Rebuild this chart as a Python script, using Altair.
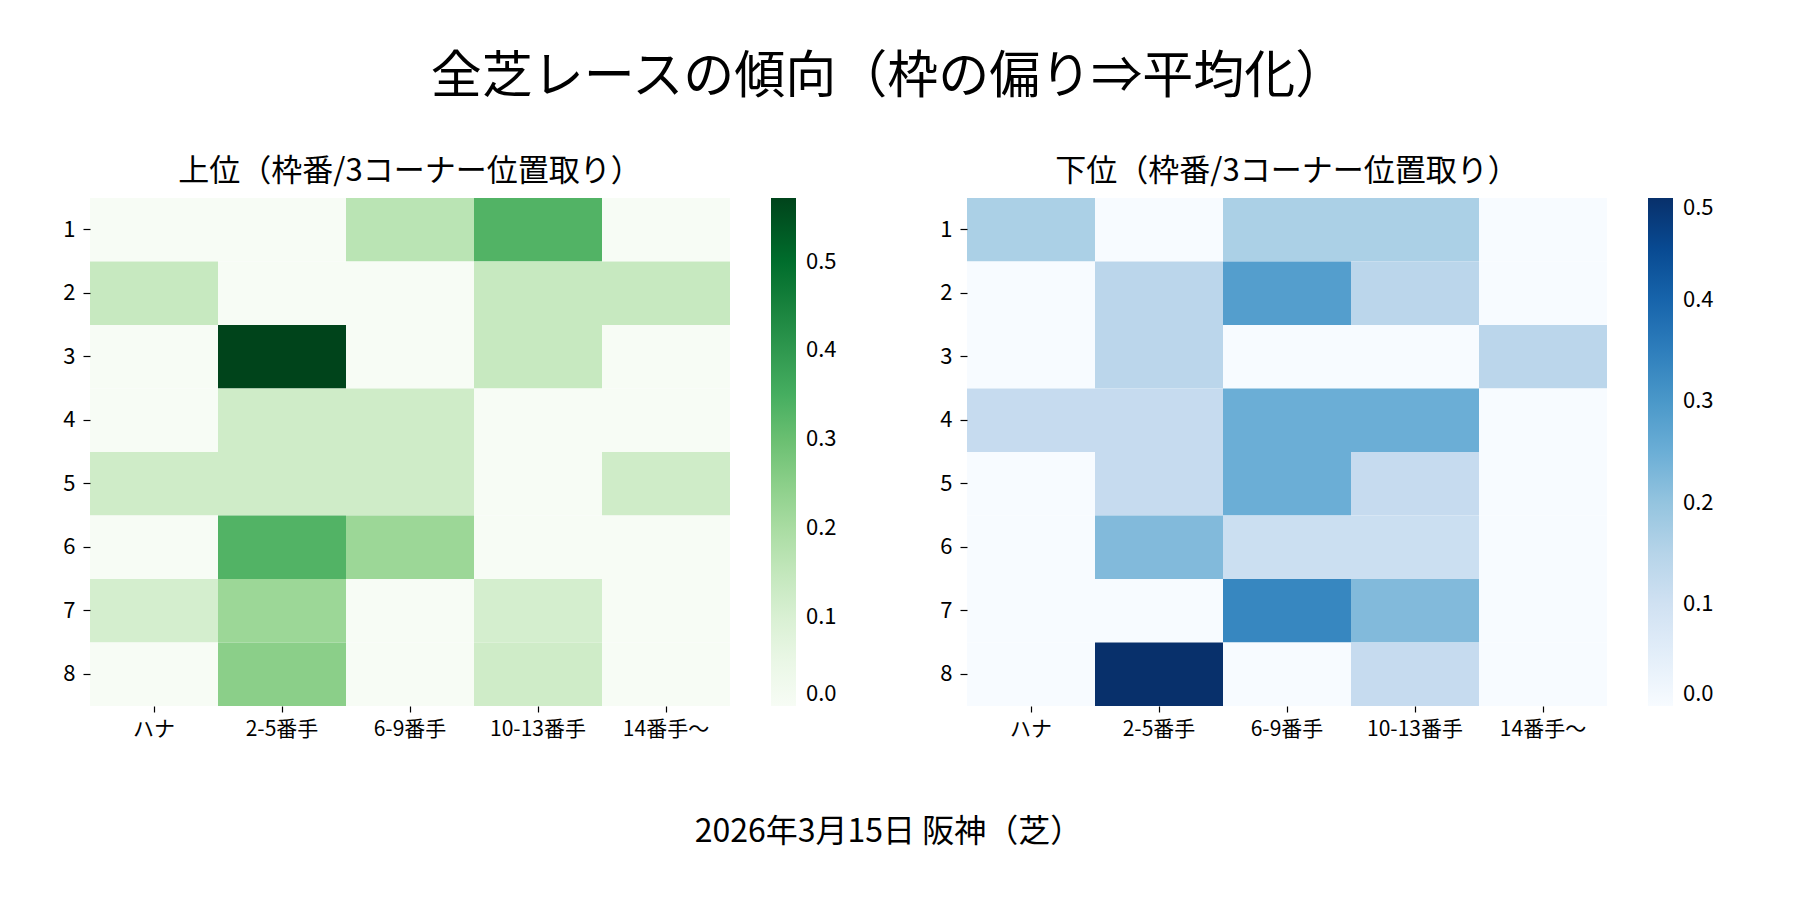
import altair as alt
import pandas as pd

FONT = "Noto Sans CJK JP"

rows = [1, 2, 3, 4, 5, 6, 7, 8]
cols = ["ハナ", "2-5番手", "6-9番手", "10-13番手", "14番手〜"]

# 上位 (rows = 枠番 1..8, columns = 3コーナー位置取り)
upper = [
    [0.0,   0.0,   1/6,   1/3,   0.0],
    [1/7,   0.0,   0.0,   1/7,   1/7],
    [0.0,   4/7,   0.0,   1/7,   0.0],
    [0.0,   1/8,   1/8,   0.0,   0.0],
    [1/8,   1/8,   1/8,   0.0,   1/8],
    [0.0,   1/3,   2/9,   0.0,   0.0],
    [1/9,   2/9,   0.0,   1/9,   0.0],
    [0.0,   1/4,   0.0,   1/8,   0.0],
]

# 下位
lower = [
    [1/6,   0.0,   1/6,   1/6,   0.0],
    [0.0,   1/7,   2/7,   1/7,   0.0],
    [0.0,   1/7,   0.0,   0.0,   1/7],
    [1/8,   1/8,   1/4,   1/4,   0.0],
    [0.0,   1/8,   1/4,   1/8,   0.0],
    [0.0,   2/9,   1/9,   1/9,   0.0],
    [0.0,   0.0,   1/3,   2/9,   0.0],
    [0.0,   1/2,   0.0,   1/8,   0.0],
]

upper_ticks = [0.0, 0.1, 0.2, 0.3, 0.4, 0.5]
lower_ticks = [0.0, 0.1, 0.2, 0.3, 0.4, 0.5]

greens = ["#f7fcf5", "#e5f5e0", "#c7e9c0", "#a1d99b", "#74c476",
          "#41ab5d", "#238b45", "#006d2c", "#00441b"]
blues = ["#f7fbff", "#deebf7", "#c6dbef", "#9ecae1", "#6baed6",
         "#4292c6", "#2171b5", "#08519c", "#08306b"]


def to_long(mat):
    recs = []
    for i, r in enumerate(rows):
        for j, c in enumerate(cols):
            recs.append({"row": r, "col": c, "value": mat[i][j]})
    return pd.DataFrame(recs)


def heat(mat, title, colors, ticks):
    df = to_long(mat)
    vmax = max(max(r) for r in mat)
    dom = [vmax * k / (len(colors) - 1) for k in range(len(colors))]
    return alt.Chart(df).mark_rect(strokeWidth=0).encode(
        x=alt.X("col:N", sort=cols, title=None,
                axis=alt.Axis(labelAngle=0, domain=False, tickSize=6,
                              tickColor="black", tickWidth=1.2,
                              labelFontSize=21,
                              labelFont=FONT, labelColor="black",
                              labelPadding=6)),
        y=alt.Y("row:O", sort=rows, title=None,
                axis=alt.Axis(domain=False, tickSize=7, tickColor="black",
                              tickWidth=1.2,
                              labelFontSize=22, labelFont=FONT,
                              labelColor="black", labelPadding=8)),
        color=alt.Color("value:Q",
                        scale=alt.Scale(domain=dom, range=colors,
                                        interpolate="rgb"),
                        legend=alt.Legend(title=None, orient="right",
                                          direction="vertical",
                                          gradientLength=508,
                                          gradientThickness=25,
                                          gradientStrokeWidth=0,
                                          values=ticks, format=".1f",
                                          labelFontSize=22, labelFont=FONT,
                                          labelColor="black",
                                          labelOffset=10,
                                          labelBaseline="middle",
                                          offset=41)),
    ).properties(
        width=640, height=508,
        title=alt.TitleParams(title, fontSize=31, font=FONT,
                              fontWeight="normal", color="black", offset=10),
    )


left = heat(upper, "上位（枠番/3コーナー位置取り）", greens, upper_ticks)
right = heat(lower, "下位（枠番/3コーナー位置取り）", blues, lower_ticks)

inner = alt.hconcat(left, right, spacing=102).resolve_scale(
    color="independent").resolve_legend(color="independent").properties(
    title=alt.TitleParams("2026年3月15日 阪神（芝）", orient="bottom",
                          anchor="middle", fontSize=32, font=FONT,
                          fontWeight="normal", color="black", offset=78))

chart = alt.vconcat(inner).properties(
    title=alt.TitleParams("全芝レースの傾向（枠の偏り⇒平均化）", fontSize=51,
                          font=FONT, fontWeight="normal", color="black",
                          anchor="middle", offset=52),
    padding={"left": 54, "top": 44, "right": 5, "bottom": 5},
).configure_view(stroke=None)

chart.save("out.html", embed_options={"renderer": "svg", "actions": False})
